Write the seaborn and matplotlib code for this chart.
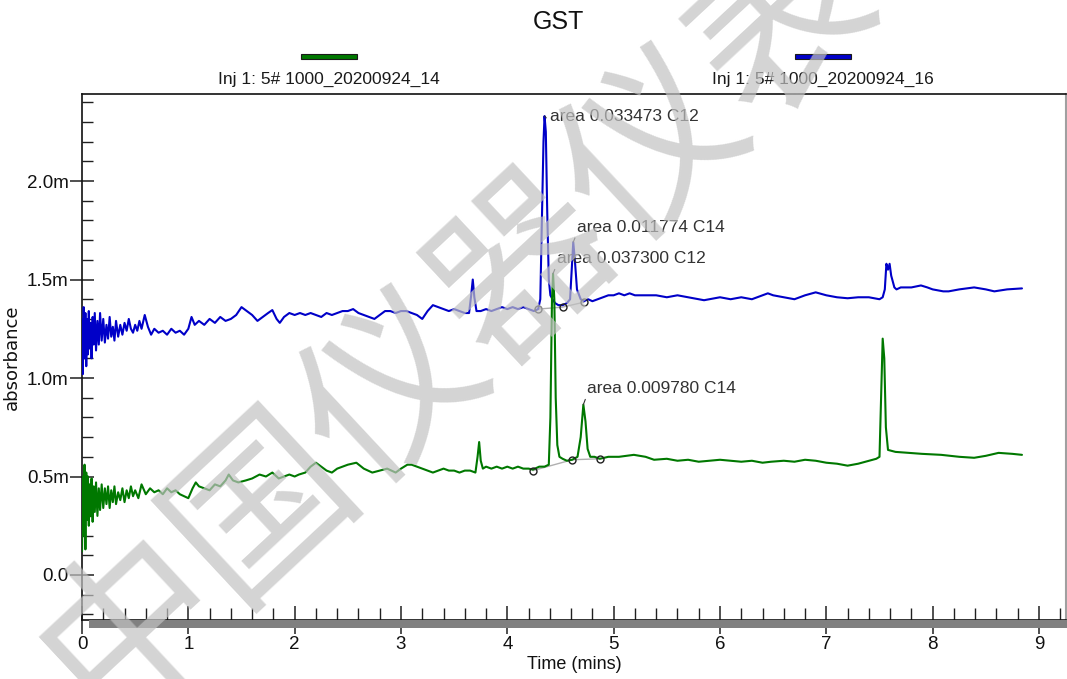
import numpy as np
import pandas as pd
import matplotlib
matplotlib.use("Agg")
import matplotlib.pyplot as plt
from matplotlib.patches import Rectangle
from matplotlib.ticker import MultipleLocator, FixedLocator, FixedFormatter
import seaborn as sns

# ---------------------------------------------------------------- data
run_names = ["Inj 1: 5# 1000_20200924_14", "Inj 1: 5# 1000_20200924_16"]
run_colors = ["#007800", "#0000c8"]

# run _16 (blue), time in minutes, absorbance in mAU-scale units (m)
blue_time = [
    0.000, 0.008, 0.016, 0.024, 0.032, 0.040, 0.048, 0.056, 0.064, 0.072,
    0.080, 0.090, 0.100, 0.110, 0.120, 0.132, 0.145, 0.158, 0.170, 0.185,
    0.200, 0.215, 0.230, 0.245, 0.260, 0.275, 0.290, 0.305, 0.320, 0.340,
    0.360, 0.380, 0.400, 0.420, 0.440, 0.460, 0.480, 0.500, 0.520, 0.540,
    0.560, 0.590, 0.620, 0.650, 0.680, 0.720, 0.760, 0.800, 0.840, 0.880,
    0.920, 0.960, 1.000, 1.030, 1.060, 1.100, 1.150, 1.200, 1.250, 1.300,
    1.350, 1.400, 1.450, 1.500, 1.550, 1.600, 1.650, 1.700, 1.750, 1.790,
    1.830, 1.860, 1.900, 1.950, 2.000, 2.050, 2.100, 2.150, 2.200, 2.250,
    2.300, 2.350, 2.400, 2.450, 2.500, 2.550, 2.600, 2.650, 2.700, 2.750,
    2.800, 2.850, 2.900, 2.950, 3.000, 3.050, 3.100, 3.150, 3.200, 3.250,
    3.300, 3.350, 3.400, 3.450, 3.500, 3.550, 3.600, 3.640, 3.660, 3.675,
    3.690, 3.710, 3.750, 3.800, 3.850, 3.900, 3.950, 4.000, 4.050, 4.100,
    4.150, 4.200, 4.250, 4.290, 4.310, 4.325, 4.340, 4.350, 4.362, 4.375,
    4.390, 4.405, 4.425, 4.450, 4.480, 4.520, 4.560, 4.590, 4.605, 4.620,
    4.635, 4.655, 4.690, 4.720, 4.760, 4.800, 4.850, 4.900, 4.950, 5.000,
    5.050, 5.100, 5.150, 5.200, 5.300, 5.400, 5.500, 5.600, 5.700, 5.800,
    5.850, 5.900, 6.000, 6.100, 6.200, 6.300, 6.400, 6.450, 6.500, 6.600,
    6.700, 6.800, 6.900, 7.000, 7.100, 7.200, 7.300, 7.400, 7.500, 7.530,
    7.550, 7.565, 7.580, 7.595, 7.610, 7.640, 7.660, 7.700, 7.800, 7.890,
    7.950, 8.000, 8.100, 8.150, 8.250, 8.390, 8.500, 8.580, 8.700, 8.840,
]
blue_abs = [
    1.30, 1.02, 1.36, 1.10, 1.33, 1.06, 1.30, 1.12, 1.34, 1.15,
    1.28, 1.10, 1.31, 1.17, 1.33, 1.14, 1.29, 1.17, 1.33, 1.19,
    1.30, 1.18, 1.27, 1.20, 1.31, 1.21, 1.26, 1.19, 1.29, 1.21,
    1.27, 1.22, 1.28, 1.24, 1.30, 1.25, 1.23, 1.27, 1.24, 1.29,
    1.25, 1.32, 1.26, 1.22, 1.25, 1.23, 1.24, 1.22, 1.25, 1.23,
    1.24, 1.22, 1.25, 1.31, 1.27, 1.29, 1.27, 1.30, 1.28, 1.31,
    1.29, 1.30, 1.32, 1.36, 1.34, 1.32, 1.29, 1.31, 1.33, 1.345,
    1.30, 1.28, 1.31, 1.33, 1.32, 1.33, 1.32, 1.33, 1.32, 1.31,
    1.33, 1.32, 1.33, 1.34, 1.34, 1.35, 1.33, 1.32, 1.31, 1.30,
    1.32, 1.34, 1.34, 1.33, 1.34, 1.34, 1.33, 1.32, 1.30, 1.34,
    1.37, 1.36, 1.35, 1.34, 1.35, 1.34, 1.33, 1.33, 1.42, 1.50,
    1.41, 1.34, 1.34, 1.35, 1.34, 1.35, 1.36, 1.35, 1.36, 1.35,
    1.36, 1.35, 1.34, 1.35, 1.40, 1.80, 2.20, 2.33, 2.25, 1.85,
    1.50, 1.42, 1.40, 1.38, 1.37, 1.37, 1.38, 1.40, 1.55, 1.69,
    1.60, 1.45, 1.40, 1.39, 1.40, 1.39, 1.40, 1.41, 1.42, 1.42,
    1.43, 1.42, 1.43, 1.42, 1.42, 1.42, 1.41, 1.42, 1.41, 1.40,
    1.395, 1.40, 1.41, 1.40, 1.41, 1.40, 1.42, 1.43, 1.42, 1.41,
    1.40, 1.42, 1.435, 1.42, 1.41, 1.405, 1.41, 1.41, 1.40, 1.41,
    1.45, 1.58, 1.55, 1.58, 1.52, 1.46, 1.45, 1.46, 1.46, 1.47,
    1.46, 1.45, 1.44, 1.44, 1.45, 1.46, 1.45, 1.44, 1.45, 1.455,
]

# run _14 (green)
green_time = [
    0.000, 0.008, 0.016, 0.024, 0.032, 0.040, 0.048, 0.056, 0.064, 0.072,
    0.080, 0.090, 0.100, 0.110, 0.120, 0.132, 0.145, 0.158, 0.170, 0.185,
    0.200, 0.215, 0.230, 0.245, 0.260, 0.275, 0.290, 0.305, 0.320, 0.340,
    0.360, 0.380, 0.400, 0.420, 0.440, 0.460, 0.480, 0.500, 0.530, 0.560,
    0.600, 0.640, 0.680, 0.720, 0.760, 0.800, 0.840, 0.880, 0.920, 0.960,
    1.000, 1.040, 1.070, 1.100, 1.150, 1.200, 1.250, 1.300, 1.350, 1.380,
    1.420, 1.470, 1.540, 1.600, 1.670, 1.730, 1.790, 1.850, 1.900, 1.950,
    2.000, 2.040, 2.100, 2.150, 2.200, 2.250, 2.300, 2.350, 2.400, 2.450,
    2.500, 2.580, 2.650, 2.730, 2.800, 2.870, 2.950, 3.000, 3.060, 3.100,
    3.150, 3.200, 3.250, 3.300, 3.350, 3.400, 3.450, 3.500, 3.550, 3.600,
    3.650, 3.700, 3.720, 3.735, 3.750, 3.770, 3.800, 3.850, 3.900, 3.950,
    4.000, 4.050, 4.100, 4.150, 4.200, 4.240, 4.300, 4.350, 4.390, 4.405,
    4.420, 4.430, 4.442, 4.455, 4.470, 4.490, 4.520, 4.560, 4.610, 4.660,
    4.690, 4.715, 4.735, 4.755, 4.780, 4.820, 4.870, 4.950, 5.050, 5.190,
    5.300, 5.380, 5.500, 5.600, 5.700, 5.800, 5.900, 6.000, 6.100, 6.200,
    6.300, 6.400, 6.480, 6.600, 6.700, 6.800, 6.900, 7.000, 7.100, 7.200,
    7.300, 7.400, 7.470, 7.500, 7.515, 7.530, 7.545, 7.560, 7.580, 7.650,
    7.770, 7.900, 8.080, 8.250, 8.390, 8.500, 8.620, 8.750, 8.840,
]
green_abs = [
    0.12, 0.50, 0.20, 0.56, 0.13, 0.52, 0.28, 0.50, 0.25, 0.46,
    0.30, 0.49, 0.27, 0.45, 0.32, 0.47, 0.30, 0.44, 0.33, 0.46,
    0.34, 0.44, 0.36, 0.45, 0.34, 0.43, 0.37, 0.45, 0.36, 0.42,
    0.38, 0.44, 0.37, 0.43, 0.39, 0.45, 0.40, 0.43, 0.39, 0.46,
    0.41, 0.44, 0.42, 0.43, 0.41, 0.44, 0.42, 0.43, 0.41, 0.40,
    0.39, 0.44, 0.47, 0.45, 0.44, 0.43, 0.46, 0.45, 0.48, 0.51,
    0.48, 0.47, 0.48, 0.49, 0.51, 0.50, 0.52, 0.49, 0.50, 0.51,
    0.50, 0.51, 0.52, 0.55, 0.57, 0.55, 0.53, 0.52, 0.54, 0.55,
    0.56, 0.57, 0.54, 0.52, 0.53, 0.54, 0.52, 0.54, 0.56, 0.56,
    0.55, 0.54, 0.53, 0.52, 0.53, 0.54, 0.53, 0.53, 0.52, 0.53,
    0.53, 0.52, 0.60, 0.675, 0.58, 0.54, 0.55, 0.54, 0.55, 0.54,
    0.55, 0.54, 0.55, 0.54, 0.54, 0.535, 0.55, 0.55, 0.56, 0.80,
    1.40, 1.53, 1.40, 0.90, 0.66, 0.60, 0.59, 0.58, 0.585, 0.60,
    0.70, 0.865, 0.78, 0.64, 0.60, 0.60, 0.59, 0.60, 0.60, 0.61,
    0.60, 0.585, 0.59, 0.58, 0.585, 0.575, 0.58, 0.585, 0.58, 0.575,
    0.58, 0.57, 0.575, 0.58, 0.575, 0.585, 0.58, 0.57, 0.565, 0.555,
    0.565, 0.58, 0.59, 0.60, 0.90, 1.20, 1.10, 0.75, 0.635, 0.625,
    0.62, 0.615, 0.61, 0.60, 0.595, 0.605, 0.62, 0.615, 0.61,
]

# integration baselines (start, apex-split, end) for the labelled peaks
blue_base_time = [4.29, 4.52, 4.72]
blue_base_abs = [1.35, 1.36, 1.385]
green_base_time = [4.24, 4.61, 4.87]
green_base_abs = [0.53, 0.585, 0.59]

# peak labels: (run index, apex time, apex absorbance, text)
peak_labels = [
    (1, 4.350, 2.33, "area 0.033473 C12"),
    (1, 4.620, 1.69, "area 0.011774 C14"),
    (0, 4.430, 1.53, "area 0.037300 C12"),
    (0, 4.715, 0.865, "area 0.009780 C14"),
]
label_offsets = [(5, 0), (4, 15), (4, 15), (4, 16)]

y_ticks = [0.0, 0.5, 1.0, 1.5, 2.0]
y_tick_labels = ["0.0", "0.5m", "1.0m", "1.5m", "2.0m"]
x_ticks = [0, 1, 2, 3, 4, 5, 6, 7, 8, 9]

# ---------------------------------------------------------------- style
sns.set_theme(style="white")
plt.rcParams["font.family"] = ["Liberation Sans", "DejaVu Sans"]

W, H = 1067, 679
fig = plt.figure(figsize=(W / 100, H / 100), dpi=100)
ax = fig.add_axes([82 / W, 1 - 619.5 / H, (1066 - 82) / W, (619.5 - 94) / H])

frames = []
for name, t, a in [(run_names[1], blue_time, blue_abs),
                   (run_names[0], green_time, green_abs)]:
    frames.append(pd.DataFrame({"time": t, "absorbance": a, "run": name}))
df = pd.concat(frames, ignore_index=True)

palette = {run_names[0]: run_colors[0], run_names[1]: run_colors[1]}
# blue first so the green trace sits on top where they cross
for name in [run_names[1], run_names[0]]:
    sns.lineplot(data=df[df["run"] == name], x="time", y="absorbance",
                 color=palette[name], estimator=None, sort=False,
                 lw=1.5, legend=False, ax=ax, zorder=3)

# integration baselines with boundary markers
for bt, ba in [(blue_base_time, blue_base_abs), (green_base_time, green_base_abs)]:
    ax.plot(bt, ba, color="#b0b0b0", lw=1.0, zorder=2)
    ax.plot(bt, ba, ls="none", marker="o", ms=5, mfc="none", mec="#202020",
            mew=1.0, zorder=4)

# peak annotations
for (run, pt, pv, txt), off in zip(peak_labels, label_offsets):
    ax.annotate(txt, xy=(pt, pv), xytext=off, textcoords="offset pixels",
                ha="left", va="center",
                fontsize=12.5, color="#333333",
                arrowprops=dict(arrowstyle="-", color="#333333", lw=0.8,
                                shrinkA=0, shrinkB=0, relpos=(0, 0.15)),
                zorder=5)

# axes limits and ticks
ax.set_xlim(0, 9.254)
ax.set_ylim(-0.226, 2.442)
ax.xaxis.set_major_locator(FixedLocator(x_ticks))
ax.xaxis.set_minor_locator(MultipleLocator(0.2))
ax.yaxis.set_major_locator(FixedLocator(y_ticks))
ax.yaxis.set_major_formatter(FixedFormatter(y_tick_labels))
ax.yaxis.set_minor_locator(MultipleLocator(0.1))
ax.tick_params(axis="x", which="major", direction="inout", length=20, width=1.1,
               color="#202020", labelsize=13.5, pad=2, bottom=True)
ax.tick_params(axis="x", which="minor", direction="in", length=9, width=1.0,
               color="#202020", bottom=True)
ax.tick_params(axis="y", which="major", direction="inout", length=17, width=1.1,
               color="#202020", labelsize=13.5, pad=1, left=True)
ax.tick_params(axis="y", which="minor", direction="in", length=8, width=1.0,
               color="#202020", left=True)
for lab in ax.get_xticklabels() + ax.get_yticklabels():
    lab.set_color("#111111")

for side in ["left", "top", "bottom"]:
    ax.spines[side].set_color("#111111")
    ax.spines[side].set_linewidth(1.2)
ax.spines["right"].set_color("#a0a0a0")
ax.spines["right"].set_linewidth(1.5)

ax.set_xlabel("Time (mins)", fontsize=13, color="#111111", labelpad=2)
ax.set_ylabel("absorbance", fontsize=13, color="#111111",
              family="DejaVu Sans", labelpad=4)

# shadow band under the time axis
fig.add_artist(Rectangle((89 / W, 1 - 628 / H), 1 - 89 / W, 8 / H,
                         transform=fig.transFigure, facecolor="#808080",
                         edgecolor="none", zorder=1))

# title and run keys
fig.text(558 / W, 1 - 22 / H, "GST", ha="center", va="center",
         fontsize=18, color="#111111")
for name, col, cx in [(run_names[0], run_colors[0], 329),
                      (run_names[1], run_colors[1], 823)]:
    fig.add_artist(Rectangle(((cx - 28) / W, 1 - 59 / H), 56 / W, 5 / H,
                             transform=fig.transFigure, facecolor=col,
                             edgecolor="#1a1a1a", lw=0.8))
    fig.text(cx / W, 1 - 79 / H, name, ha="center", va="center",
             fontsize=12.5, color="#1a1a1a")

# site watermark across the plot
fig.text(458 / W, 1 - 322 / H, "中国仪器仪表", rotation=43,
         rotation_mode="anchor", ha="center", va="center",
         fontsize=128, fontweight="normal",
         family=["Noto Sans CJK SC", "DejaVu Sans"],
         color="#c2c2c2", alpha=0.7, zorder=10)

fig.savefig("out.png", dpi=100)
